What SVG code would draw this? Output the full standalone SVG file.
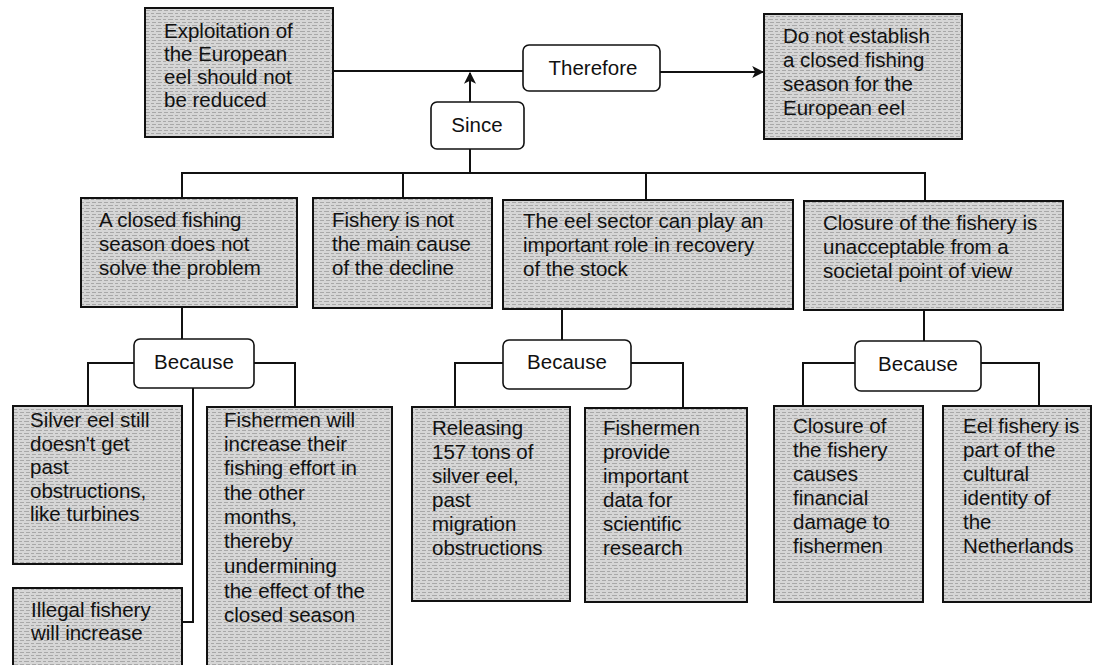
<svg xmlns="http://www.w3.org/2000/svg" width="1093" height="665" viewBox="0 0 1093 665">
<style>
  .box { stroke: #111; stroke-width: 2; fill: url(#grain); }
  .conn { fill: #fff; stroke: #111; stroke-width: 1.6; }
  .t { font-family: "Liberation Sans", Arial, sans-serif; font-size: 20.5px; fill: #111; }
  .c { text-anchor: middle; }
  .ln { fill: none; stroke: #111; stroke-width: 2; }
</style>
<defs>
  <pattern id="grain" width="12" height="6" patternUnits="userSpaceOnUse">
    <rect width="12" height="6" fill="#d6d6d6"/>
    <path d="M0 1.5 H5 M7 1.5 H10 M2 4.5 H6 M8 4.5 H12" stroke="#a8a8a8" stroke-width="1"/>
  </pattern>
  <marker id="ah" viewBox="0 0 10 10" refX="9" refY="5" markerWidth="13" markerHeight="12" markerUnits="userSpaceOnUse" orient="auto">
    <path d="M0 0 L10 5 L0 10 L2.5 5 Z" fill="#111"/>
  </marker>
</defs>
<rect width="1093" height="665" fill="#fff"/>

<g id="connectors">
  <path class="ln" d="M333 71 H523"/>
  <path class="ln" d="M660 72 H763" marker-end="url(#ah)"/>
  <path class="ln" d="M470 102 V73" marker-end="url(#ah)"/>
  <path class="ln" d="M470 149 V173"/>
  <path class="ln" d="M182 198 V173 H925 V201"/>
  <path class="ln" d="M403 173 V198"/>
  <path class="ln" d="M646 173 V200"/>
  <path class="ln" d="M182 307 V339"/>
  <path class="ln" d="M134 363 H88 V406"/>
  <path class="ln" d="M254 363 H295 V407"/>
  <path class="ln" d="M193 388 V622 H182"/>
  <path class="ln" d="M562 309 V340"/>
  <path class="ln" d="M503 363 H455 V407"/>
  <path class="ln" d="M631 363 H683 V408"/>
  <path class="ln" d="M924 310 V341"/>
  <path class="ln" d="M855 363 H803 V406"/>
  <path class="ln" d="M981 363 H1039 V406"/>
</g>

<g id="claim">
  <rect class="box" x="145" y="8" width="188" height="129"/>
  <text class="t" x="164" y="38">Exploitation of</text>
  <text class="t" x="164" y="61">the European</text>
  <text class="t" x="164" y="84">eel should not</text>
  <text class="t" x="164" y="107">be reduced</text>
</g>

<g id="therefore">
  <rect class="conn" x="523" y="45" width="137" height="46" rx="6"/>
  <text class="t c" x="593" y="75">Therefore</text>
</g>

<g id="conclusion">
  <rect class="box" x="764" y="14" width="198" height="125"/>
  <text class="t" x="783" y="43">Do not establish</text>
  <text class="t" x="783" y="67">a closed fishing</text>
  <text class="t" x="783" y="91">season for the</text>
  <text class="t" x="783" y="115">European eel</text>
</g>

<g id="since">
  <rect class="conn" x="431" y="102" width="93" height="47" rx="6"/>
  <text class="t c" x="477" y="132">Since</text>
</g>

<g id="reasonA">
  <rect class="box" x="81" y="198" width="216" height="109"/>
  <text class="t" x="99" y="227">A closed fishing</text>
  <text class="t" x="99" y="251">season does not</text>
  <text class="t" x="99" y="275">solve the problem</text>
</g>

<g id="reasonB">
  <rect class="box" x="313" y="198" width="179" height="110"/>
  <text class="t" x="332" y="227">Fishery is not</text>
  <text class="t" x="332" y="251">the main cause</text>
  <text class="t" x="332" y="275">of the decline</text>
</g>

<g id="reasonC">
  <rect class="box" x="503" y="200" width="290" height="109"/>
  <text class="t" x="523" y="228">The eel sector can play an</text>
  <text class="t" x="523" y="252">important role in recovery</text>
  <text class="t" x="523" y="276">of the stock</text>
</g>

<g id="reasonD">
  <rect class="box" x="804" y="201" width="259" height="109"/>
  <text class="t" x="823" y="230">Closure of the fishery is</text>
  <text class="t" x="823" y="254">unacceptable from a</text>
  <text class="t" x="823" y="278">societal point of view</text>
</g>

<g id="because1">
  <rect class="conn" x="134" y="339" width="120" height="49" rx="6"/>
  <text class="t c" x="194" y="369">Because</text>
</g>

<g id="because2">
  <rect class="conn" x="503" y="340" width="128" height="49" rx="6"/>
  <text class="t c" x="567" y="369">Because</text>
</g>

<g id="because3">
  <rect class="conn" x="855" y="341" width="126" height="50" rx="6"/>
  <text class="t c" x="918" y="371">Because</text>
</g>

<g id="silverEel">
  <rect class="box" x="13" y="406" width="169" height="158"/>
  <text class="t" x="30" y="427">Silver eel still</text>
  <text class="t" x="30" y="451">doesn't get</text>
  <text class="t" x="30" y="474">past</text>
  <text class="t" x="30" y="498">obstructions,</text>
  <text class="t" x="30" y="521">like turbines</text>
</g>

<g id="illegal">
  <rect class="box" x="13" y="588" width="169" height="80"/>
  <text class="t" x="31" y="617">Illegal fishery</text>
  <text class="t" x="31" y="640">will increase</text>
</g>

<g id="effort">
  <rect class="box" x="207" y="407" width="185" height="261"/>
  <text class="t" x="224" y="427">Fishermen will</text>
  <text class="t" x="224" y="451">increase their</text>
  <text class="t" x="224" y="475">fishing effort in</text>
  <text class="t" x="224" y="500">the other</text>
  <text class="t" x="224" y="524">months,</text>
  <text class="t" x="224" y="548">thereby</text>
  <text class="t" x="224" y="573">undermining</text>
  <text class="t" x="224" y="598">the effect of the</text>
  <text class="t" x="224" y="622">closed season</text>
</g>

<g id="releasing">
  <rect class="box" x="412" y="407" width="158" height="194"/>
  <text class="t" x="432" y="435">Releasing</text>
  <text class="t" x="432" y="459">157 tons of</text>
  <text class="t" x="432" y="483">silver eel,</text>
  <text class="t" x="432" y="507">past</text>
  <text class="t" x="432" y="531">migration</text>
  <text class="t" x="432" y="555">obstructions</text>
</g>

<g id="data">
  <rect class="box" x="585" y="408" width="162" height="194"/>
  <text class="t" x="603" y="435">Fishermen</text>
  <text class="t" x="603" y="459">provide</text>
  <text class="t" x="603" y="483">important</text>
  <text class="t" x="603" y="507">data for</text>
  <text class="t" x="603" y="531">scientific</text>
  <text class="t" x="603" y="555">research</text>
</g>

<g id="financial">
  <rect class="box" x="774" y="406" width="149" height="196"/>
  <text class="t" x="793" y="433">Closure of</text>
  <text class="t" x="793" y="457">the fishery</text>
  <text class="t" x="793" y="481">causes</text>
  <text class="t" x="793" y="505">financial</text>
  <text class="t" x="793" y="529">damage to</text>
  <text class="t" x="793" y="553">fishermen</text>
</g>

<g id="cultural">
  <rect class="box" x="943" y="406" width="148" height="196"/>
  <text class="t" x="963" y="433">Eel fishery is</text>
  <text class="t" x="963" y="457">part of the</text>
  <text class="t" x="963" y="481">cultural</text>
  <text class="t" x="963" y="505">identity of</text>
  <text class="t" x="963" y="529">the</text>
  <text class="t" x="963" y="553">Netherlands</text>
</g>
</svg>
